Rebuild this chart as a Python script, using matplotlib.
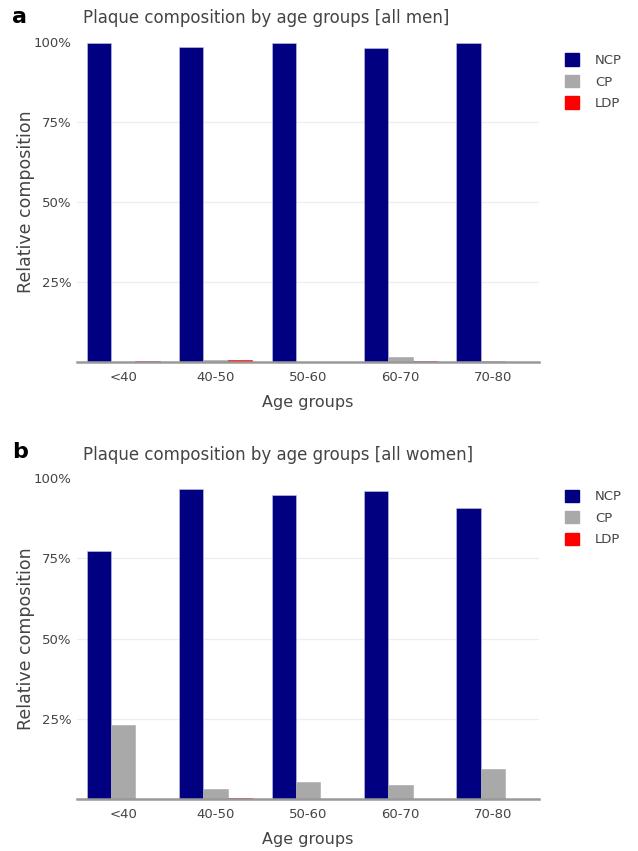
import numpy as np
import matplotlib
matplotlib.use('Agg')
import matplotlib.pyplot as plt
from matplotlib.patches import Patch

# 年龄组
groups = ['<40', '40-50', '50-60', '60-70', '70-80']
series = ['NCP', 'CP', 'LDP']
colors = ['#000080', '#a9a9a9', '#ff0000']

# 男性：各斑块类型的相对构成(%)
men_ncp = [99.5, 98.4, 99.7, 98.0, 99.5]
men_cp = [0.2, 0.8, 0.2, 1.6, 0.5]
men_ldp = [0.3, 0.8, 0.1, 0.4, 0.0]

# 女性
women_ncp = [77.2, 96.6, 94.6, 95.8, 90.7]
women_cp = [23.0, 3.3, 5.3, 4.5, 9.4]
women_ldp = [0.0, 0.3, 0.2, 0.0, 0.0]

W, H = 638, 851
fig = plt.figure(figsize=(W / 100, H / 100), dpi=100)
plt.rcParams['font.family'] = ['DejaVu Sans']


def px_axes(left, top, right, bottom):
    return fig.add_axes([left / W, 1 - bottom / H, (right - left) / W, (bottom - top) / H])


def panel(ax, vals, title, letter, title_y, letter_y):
    x = np.arange(len(groups))
    w = 0.263
    for i, (v, c) in enumerate(zip(vals, colors)):
        ax.bar(x + (i - 1) * w, v, width=w, color=c, edgecolor='#c8c8e6' if i == 0 else c,
               linewidth=0.4, zorder=3)
    ax.set_xlim(-0.5, len(groups) - 0.5)
    ax.set_ylim(0, 100)
    ax.set_yticks([0, 25, 50, 75, 100])
    ax.set_yticklabels(['', '25%', '50%', '75%', '100%'])
    ax.set_xticks(x)
    ax.set_xticklabels(groups)
    ax.tick_params(length=0, labelsize=9.5, colors='#444444', pad=4)
    ax.tick_params(axis='x', pad=6)
    for s in ['top', 'right', 'left']:
        ax.spines[s].set_visible(False)
    ax.spines['bottom'].set_color('#999999')
    ax.spines['bottom'].set_linewidth(1.8)
    ax.spines['bottom'].set_zorder(4)
    # 网格线只画25/50/75
    for yv in [25, 50, 75]:
        ax.axhline(yv, color='#eeeeee', linewidth=0.9, zorder=0)
    ax.set_ylabel('Relative composition', fontsize=12.5, color='#444444', labelpad=-1)
    ax.set_xlabel('Age groups', fontsize=11.5, color='#444444', labelpad=8)
    fig.text(83 / W, 1 - title_y / H, title, fontsize=12, color='#444444', va='center', ha='left')
    fig.text(12 / W, 1 - letter_y / H, letter, fontsize=16, fontweight='bold', va='center', ha='left')
    handles = [Patch(facecolor=c, edgecolor=c, label=s) for s, c in zip(series, colors)]
    leg = ax.legend(handles=handles, loc='upper left', bbox_to_anchor=(1.045, 0.98), frameon=False,
                    fontsize=9.5, handlelength=1.05, handleheight=1.05, handletextpad=1.2,
                    labelspacing=0.6, borderaxespad=0)
    for t in leg.get_texts():
        t.set_color('#444444')


ax1 = px_axes(77, 41.7, 539, 362.3)
panel(ax1, [men_ncp, men_cp, men_ldp], 'Plaque composition by age groups [all men]', 'a', 18, 17)

ax2 = px_axes(77, 478, 539, 799.3)
panel(ax2, [women_ncp, women_cp, women_ldp], 'Plaque composition by age groups [all women]', 'b', 455, 452)

fig.savefig('out.png', dpi=100, facecolor='white')
